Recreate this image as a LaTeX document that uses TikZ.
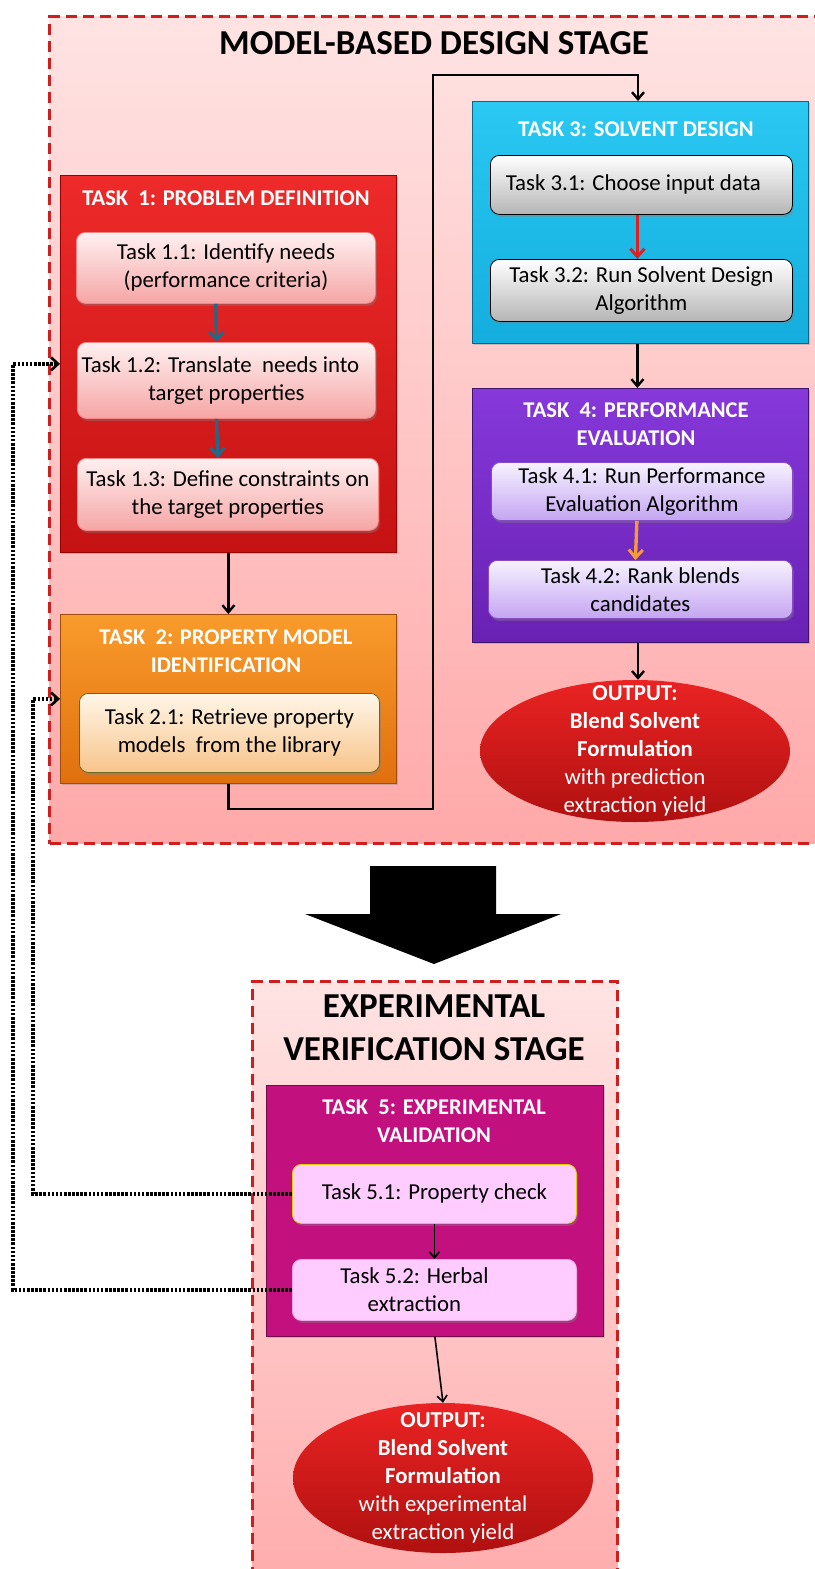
\documentclass[tikz,border=0pt]{standalone}
\usepackage{fontspec}
\setmainfont{Carlito}
\usetikzlibrary{shapes.geometric, arrows.meta, shadows}

\definecolor{stageTop}{HTML}{FFE3E3}
\definecolor{stageBot}{HTML}{FFA9A9}
\definecolor{stageLine}{HTML}{D01E1E}
\definecolor{redTop}{HTML}{EE2A2A}
\definecolor{redBot}{HTML}{C51212}
\definecolor{pinkTop}{HTML}{FFF0F0}
\definecolor{pinkBot}{HTML}{F6A5A5}
\definecolor{orgTop}{HTML}{F99B2C}
\definecolor{orgBot}{HTML}{E0700E}
\definecolor{creamTop}{HTML}{FFF6E8}
\definecolor{creamBot}{HTML}{F8C48A}
\definecolor{cyanTop}{HTML}{2AC8F2}
\definecolor{cyanBot}{HTML}{14AEDE}
\definecolor{greyBot}{HTML}{B5B5B5}
\definecolor{purTop}{HTML}{8638DA}
\definecolor{purBot}{HTML}{6821B3}
\definecolor{lavTop}{HTML}{F7F2FF}
\definecolor{lavBot}{HTML}{C4A5F2}
\definecolor{magFill}{HTML}{C2107E}
\definecolor{lilac}{HTML}{FFCCFF}
\definecolor{flowBlue}{HTML}{1F6A8A}
\definecolor{flowRed}{HTML}{E02020}
\definecolor{flowOrange}{HTML}{F59A3C}
\definecolor{ovalTop}{HTML}{EA2323}
\definecolor{ovalBot}{HTML}{B01010}

\newcommand\tskfont{\fontsize{22.8}{28}\selectfont}
\newcommand\ttlfont{\fontsize{22.5}{27.5}\selectfont\bfseries}
\newcommand\stgfont{\fontsize{35}{43}\selectfont\bfseries}

\tikzset{
  stagebox/.style={draw=stageLine, line width=3pt, dash pattern=on 11pt off 6pt,
    top color=stageTop, bottom color=stageBot, anchor=north west, inner sep=0pt},
  groupbox/.style={anchor=north west, inner sep=0pt, draw=#1, line width=0.8pt,
    drop shadow={shadow xshift=2pt, shadow yshift=-2pt, opacity=0.35}},
  subbox/.style={anchor=north west, inner sep=0pt, rounded corners=9pt, align=center,
    font=\tskfont, line width=0.8pt,
    drop shadow={shadow xshift=1.5pt, shadow yshift=-2.5pt, opacity=0.4}},
  grouptitle/.style={text=white, align=center, font=\ttlfont},
  stagetitle/.style={align=center, font=\stgfont},
  oval/.style={ellipse, inner sep=0pt, top color=ovalTop, bottom color=ovalBot},
  ovaltext/.style={text=white, align=center, font=\tskfont, inner sep=0pt},
  flow/.style={line width=2.6pt, -{Straight Barb[length=7pt, width=12pt, line width=2.4pt]}},
  innerflow/.style={line width=3.4pt, -{Straight Barb[length=8pt, width=14pt, line width=3pt]}},
  thinflow/.style={line width=1.6pt, -{Straight Barb[length=6pt, width=10pt, line width=1.6pt]}},
  feedback/.style={line width=3.8pt, dash pattern=on 2.6pt off 1.5pt,
    -{Straight Barb[length=7pt, width=13pt, line width=2.6pt]}},
}

\begin{document}
\begin{tikzpicture}[x=1pt, y=-1pt]
\useasboundingbox (0,0) rectangle (814,1569);
\fill[white] (0,0) rectangle (814,1569);

% ---------- model-based design stage ----------
\node[stagebox, minimum width=790, minimum height=827] (stage1) at (48,15) {};
\node[stagetitle] (stage1title) at (434,43) {MODEL-BASED DESIGN STAGE};

% Task 1
\node[groupbox=red!60!black, top color=redTop, bottom color=redBot,
      minimum width=336, minimum height=377] (t1) at (60,175) {};
\node[grouptitle] (t1title) at (226,198) {TASK~ 1: PROBLEM DEFINITION};
\node[subbox, draw=pinkBot!80!red, top color=pinkTop, bottom color=pinkBot,
      minimum width=299, minimum height=71] (t11) at (76,232)
      {Task 1.1: Identify needs\\(performance criteria)};
\node[subbox, draw=pinkBot!80!red, top color=pinkTop, bottom color=pinkBot,
      minimum width=298, minimum height=76] (t12) at (77,342)
      {\hspace*{-12pt}Task 1.2: Translate~ needs into\\target properties};
\node[subbox, draw=pinkBot!80!red, top color=pinkTop, bottom color=pinkBot,
      minimum width=301, minimum height=72] (t13) at (77,458)
      {Task 1.3: Define constraints on\\the target properties};
\draw[innerflow, flowBlue] ([xshift=-10pt]t11.south) -- ([xshift=-10pt]t12.north);
\draw[innerflow, flowBlue] ([xshift=-10pt]t12.south) -- ([xshift=-10pt]t13.north);

% Task 2
\node[groupbox=orgBot!70!black, top color=orgTop, bottom color=orgBot,
      minimum width=336, minimum height=169] (t2) at (60,614) {};
\node[grouptitle] (t2title) at (226,651) {TASK~ 2: PROPERTY MODEL\\IDENTIFICATION};
\node[subbox, draw=olive!70!black, top color=creamTop, bottom color=creamBot,
      minimum width=300, minimum height=79] (t21) at (79,693)
      {Task 2.1: Retrieve property\\models~ from the library};

% Task 3
\node[groupbox=cyanBot!60!black, top color=cyanTop, bottom color=cyanBot,
      minimum width=336, minimum height=242] (t3) at (472,101) {};
\node[grouptitle] (t3title) at (636,129) {TASK 3: SOLVENT DESIGN};
\node[subbox, draw=black, top color=white, bottom color=greyBot,
      minimum width=302, minimum height=59] (t31) at (490,155)
      {\hspace*{-16pt}Task 3.1: Choose input data};
\node[subbox, draw=black, top color=white, bottom color=greyBot,
      minimum width=302, minimum height=62] (t32) at (490,259)
      {Task 3.2: Run Solvent Design\\Algorithm};
\draw[innerflow, flowRed] ([xshift=-4pt]t31.south) -- ([xshift=-4pt]t32.north);

% Task 4
\node[groupbox=purBot!60!black, top color=purTop, bottom color=purBot,
      minimum width=336, minimum height=254] (t4) at (472,388) {};
\node[grouptitle] (t4title) at (636,424) {TASK~ 4: PERFORMANCE\\EVALUATION};
\node[subbox, draw=purBot!80!white, top color=lavTop, bottom color=lavBot,
      minimum width=301, minimum height=58] (t41) at (491,462)
      {Task 4.1: Run Performance\\Evaluation Algorithm};
\node[subbox, draw=purBot!80!white, top color=lavTop, bottom color=lavBot,
      minimum width=304, minimum height=58] (t42) at (488,560)
      {Task 4.2: Rank blends\\candidates};
\draw[innerflow, flowOrange] ([xshift=-5pt]t41.south) -- ([xshift=-5pt]t42.north);

% output of the design stage
\node[oval, minimum width=310, minimum height=142] (out1) at (635,751) {};
\node[ovaltext] (out1text) at (out1.center)
  {\textbf{OUTPUT:}\\\textbf{Blend Solvent}\\\textbf{Formulation}\\with prediction\\extraction yield};

% design stage connectors
\coordinate (b1) at (433,809);
\coordinate (b2) at (638,75);
\draw[flow] (t1.south) -- (t2.north);
\draw[flow] (t2.south) |- (b1) -- (b1 |- b2) -- (b2) -- (b2 |- t3.north);
\draw[flow] ([xshift=-3pt]t3.south) -- ([xshift=-3pt]t4.north);
\draw[flow] (t4.south -| b2) -- (b2 |- out1.north);

% ---------- transition arrow ----------
\fill[black] (370,866) -- (496,866) -- (496,914) -- (561,914) -- (434,964)
  -- (305,914) -- (370,914) -- cycle;

% ---------- experimental verification stage ----------
\node[stagebox, minimum width=365, minimum height=640] (stage2) at (251,980) {};
\node[stagetitle] (stage2title) at (434,1028) {EXPERIMENTAL\\VERIFICATION STAGE};

% Task 5
\node[groupbox=magFill!60!black, fill=magFill,
      minimum width=337, minimum height=251] (t5) at (266,1085) {};
\node[grouptitle] (t5title) at (434,1121) {TASK~ 5: EXPERIMENTAL\\VALIDATION};
\node[subbox, draw=yellow!70!olive, fill=lilac,
      minimum width=284, minimum height=59] (t51) at (292,1164)
      {Task 5.1: Property check};
\node[subbox, draw=lilac!80!magFill, fill=lilac,
      minimum width=284, minimum height=61] (t52) at (292,1259)
      {\hspace*{-40pt}Task 5.2: Herbal\\\hspace*{-40pt}extraction};
\draw[thinflow] (t51.south) -- (t52.north);

% output of the verification stage
\node[oval, minimum width=300, minimum height=150] (out2) at (443,1478) {};
\node[ovaltext] (out2text) at (out2.center)
  {\textbf{OUTPUT:}\\\textbf{Blend Solvent}\\\textbf{Formulation}\\with experimental\\extraction yield};
\draw[thinflow] (t5.south) -- (out2.north);

% ---------- feedback from the experiments ----------
\draw[feedback] (t51.west) -| (t2.west -| 33,0) -- (t2.west);
\draw[feedback] (t52.west) -| (t1.west -| 13,0) -- (t1.west);
\end{tikzpicture}
\end{document}
